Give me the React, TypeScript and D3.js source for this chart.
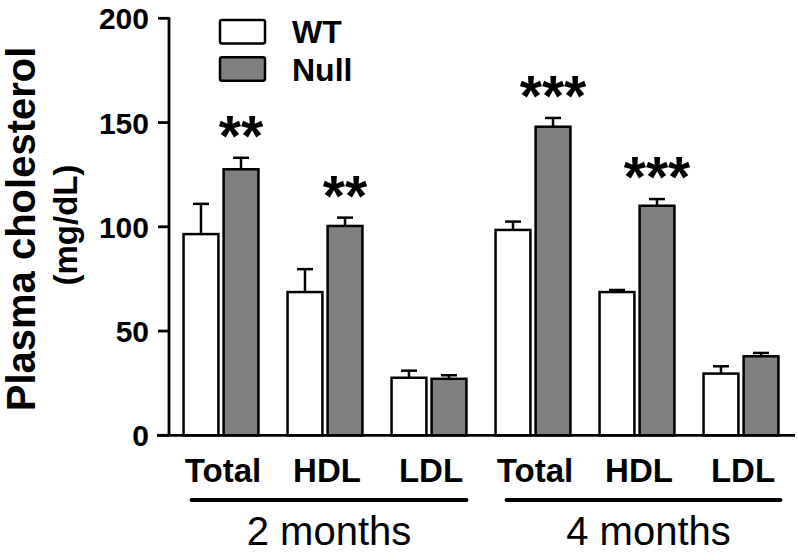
import React from "react";
import * as d3 from "d3";

const categories = ["Total", "HDL", "LDL", "Total", "HDL", "LDL"];
const periods = ["2 months", "4 months"];
const periodOf = [0, 0, 0, 1, 1, 1];
const seriesNames = ["WT", "Null"];
const wtMeans = [96.5, 68.7, 27.6, 98.5, 68.7, 29.6];
const wtErr = [14.5, 11, 3.4, 4, 1, 3.5];
const nullMeans = [127.6, 100.4, 27.1, 148, 110.1, 37.9];
const nullErr = [5.5, 4, 1.7, 4.2, 3.2, 1.6];
const significance = ["**", "**", "", "***", "***", ""];
const yTicks = [0, 50, 100, 150, 200];

const W = 798;
const H = 560;
const FONT = "'Liberation Sans', Arial, Helvetica, sans-serif";
const GREY = "#808080";

export default function App() {
  const idx = categories.map((_, i) => i);
  const x = d3.scaleBand<number>().domain(idx).range([169, 793]).paddingInner(0.28).paddingOuter(0.14);
  const inner = d3.scaleBand<string>().domain(seriesNames).range([0, x.bandwidth()]).paddingInner(0.13);
  const y = d3.scaleLinear().domain([0, 200]).range([435.3, 18.3]);
  const axisX = 169;
  const capW = 16;

  const series = [
    { name: "WT", means: wtMeans, errs: wtErr, fill: "#ffffff" },
    { name: "Null", means: nullMeans, errs: nullErr, fill: GREY },
  ];

  const groups = periods.map((p, pi) => {
    const members = idx.filter((i) => periodOf[i] === pi);
    const first = members[0];
    const last = members[members.length - 1];
    const x0 = (x(first) as number) + 8 + pi * 3;
    const x1 = (x(last) as number) + x.bandwidth() + pi * 2;
    return { label: p, x0, x1, dx: pi * 5 };
  });

  return (
    <svg width={W} height={H} style={{ position: "absolute", left: 0, top: 0, background: "#fff" }} fontFamily={FONT}>
      <rect x={0} y={0} width={W} height={H} fill="#fff" />
      {/* bars */}
      {idx.map((i) =>
        series.map((s) => {
          const bx = (x(i) as number) + (inner(s.name) as number);
          const bw = inner.bandwidth();
          const top = y(s.means[i]);
          const errTop = y(s.means[i] + s.errs[i]);
          const cx = bx + bw / 2;
          return (
            <g key={`${i}-${s.name}`}>
              <line x1={cx} x2={cx} y1={top} y2={errTop} stroke="#000" strokeWidth={2.5} />
              <line x1={cx - capW / 2} x2={cx + capW / 2} y1={errTop} y2={errTop} stroke="#000" strokeWidth={2.5} />
              <rect x={bx} y={top} width={bw} height={y(0) - top} fill={s.fill} stroke="#000" strokeWidth={2.5} />
            </g>
          );
        })
      )}
      {/* significance */}
      {idx.map((i) => {
        if (!significance[i]) return null;
        const bx = (x(i) as number) + (inner("Null") as number) + inner.bandwidth() / 2;
        const errTop = y(nullMeans[i] + nullErr[i]);
        return (
          <text key={`sig-${i}`} x={bx} y={errTop - 2} textAnchor="middle" fontSize={57} fontWeight="bold">
            {significance[i]}
          </text>
        );
      })}
      {/* y axis */}
      <line x1={axisX} x2={axisX} y1={y(200) - 1} y2={y(0)} stroke="#000" strokeWidth={2.8} />
      {yTicks.map((t) => (
        <g key={`t-${t}`}>
          <line x1={158} x2={axisX} y1={y(t)} y2={y(t)} stroke="#000" strokeWidth={2.8} />
          <text x={149} y={y(t)} dy="0.37em" textAnchor="end" fontSize={30} fontWeight="bold">
            {t}
          </text>
        </g>
      ))}
      {/* x axis */}
      <line x1={157} x2={795} y1={y(0)} y2={y(0)} stroke="#000" strokeWidth={2.8} />
      {idx.map((i) => (
        <text key={`c-${i}`} x={(x(i) as number) + x.bandwidth() / 2 + 2} y={481.7} textAnchor="middle" fontSize={33} fontWeight="bold">
          {categories[i]}
        </text>
      ))}
      {groups.map((g) => (
        <g key={g.label}>
          <line x1={g.x0} x2={g.x1} y1={500} y2={500} stroke="#000" strokeWidth={4} strokeLinecap="round" />
          <text x={(g.x0 + g.x1) / 2 + g.dx} y={545} textAnchor="middle" fontSize={40}>
            {g.label}
          </text>
        </g>
      ))}
      {/* y title */}
      <text transform="translate(35,229) rotate(-90)" textAnchor="middle" fontSize={40} fontWeight="bold">
        Plasma cholesterol
      </text>
      <text transform="translate(77,225) rotate(-90)" textAnchor="middle" fontSize={33} fontWeight="bold">
        (mg/dL)
      </text>
      {/* legend */}
      {series.map((s, k) => (
        <g key={`lg-${s.name}`} transform={`translate(220,${20 + k * 37.3})`}>
          <rect x={0} y={0} width={45} height={23.5} rx={2} fill={s.fill} stroke="#000" strokeWidth={2.5} />
          <text x={72} y={23.3} fontSize={32} fontWeight="bold">
            {s.name}
          </text>
        </g>
      ))}
    </svg>
  );
}
